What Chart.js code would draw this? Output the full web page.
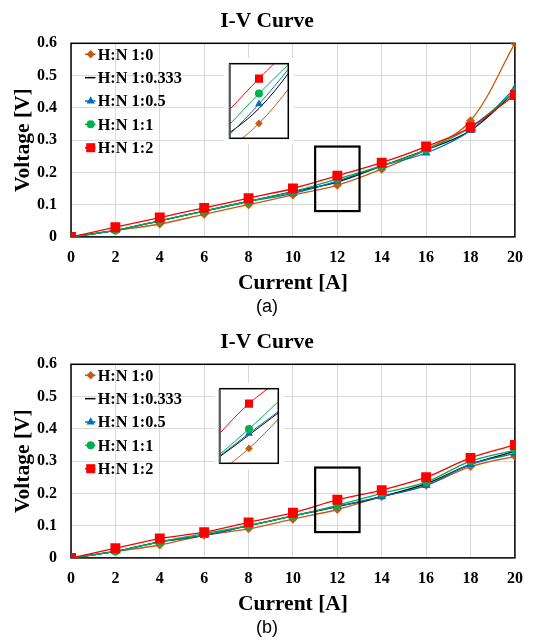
<!DOCTYPE html>
<html>
<head>
<meta charset="utf-8">
<script src="https://cdn.jsdelivr.net/npm/chart.js@4.4.1/dist/chart.umd.min.js"></script>
<style>
  body { margin: 0; background: #fff; }
  #page { position: relative; width: 534px; height: 641px; }
  .panel { position: absolute; left: 0; width: 534px; height: 320px; }
  .panel canvas { display: block; }
  .panel canvas.inset { position: absolute; background: #fff; }
</style>
</head>
<body>
<div id="page">
  <div class="panel" style="top:0">
    <canvas id="chartA" width="534" height="320"></canvas>
    <canvas class="inset" id="insetA" width="70" height="86" style="left:224px;top:58px"></canvas>
  </div>
  <div class="panel" style="top:321px">
    <canvas id="chartB" width="534" height="320"></canvas>
    <canvas class="inset" id="insetB" width="70" height="86" style="left:214px;top:62px"></canvas>
  </div>
</div>
<script>
var current = [0, 2, 4, 6, 8, 10, 12, 14, 16, 18, 20];
var xTicks = [0, 2, 4, 6, 8, 10, 12, 14, 16, 18, 20];
var yTicks = [0, 0.1, 0.2, 0.3, 0.4, 0.5, 0.6];
var seriesNames = ['H:N 1:0', 'H:N 1:0.333', 'H:N 1:0.5', 'H:N 1:1', 'H:N 1:2'];

// (a)
var hn0_a    = [0, 0.02, 0.04, 0.07, 0.10, 0.13, 0.16, 0.21, 0.27, 0.36, 0.60];
var hn0333_a = [0, 0.02, 0.05, 0.08, 0.11, 0.14, 0.17, 0.22, 0.27, 0.33, 0.45];
var hn05_a   = [0, 0.02, 0.05, 0.08, 0.11, 0.135, 0.173, 0.22, 0.26, 0.33, 0.46];
var hn1_a    = [0, 0.02, 0.05, 0.08, 0.11, 0.14, 0.18, 0.22, 0.27, 0.34, 0.45];
var hn2_a    = [0, 0.03, 0.06, 0.09, 0.12, 0.15, 0.19, 0.23, 0.28, 0.34, 0.44];

// (b)
var hn0_b    = [0, 0.02, 0.04, 0.07, 0.09, 0.12, 0.15, 0.19, 0.225, 0.283, 0.315];
var hn0333_b = [0, 0.02, 0.05, 0.07, 0.10, 0.13, 0.159, 0.19, 0.23, 0.29, 0.33];
var hn05_b   = [0, 0.02, 0.05, 0.07, 0.10, 0.13, 0.16, 0.19, 0.225, 0.29, 0.324];
var hn1_b    = [0, 0.02, 0.05, 0.075, 0.10, 0.13, 0.163, 0.20, 0.235, 0.30, 0.334];
var hn2_b    = [0, 0.03, 0.06, 0.08, 0.11, 0.14, 0.18, 0.21, 0.25, 0.31, 0.35];

// zoom window marked on the big plot, and the ranges shown in the insets
var zoomBoxX = [11, 13];
var zoomBoxY = [0.08, 0.28];
var insetX = [11, 13];
var insetY_a = [0.15, 0.20];
var insetY_b = [0.14, 0.19];

var colors = ['#C55A11', '#000000', '#0070C0', '#00B050', '#FF0000'];
var shapes = ['rectRot', 'circle', 'triangle', 'circle', 'rect'];
var radii = [4.5, 0, 5.2, 4, 7];
var insetRadii = [3.8, 0, 4.6, 4, 5.7];
var legendRadii = [4.2, 0, 4.8, 4, 6.4];

var serif = "'Liberation Serif', 'Times New Roman', serif";
Chart.defaults.font.family = serif;
Chart.defaults.color = '#000';

function makeDatasets(values, inset) {
    return values.map(function (vals, i) {
        var ds = {
            label: seriesNames[i],
            data: current.map(function (x, j) { return { x: x, y: vals[j] }; }),
            borderColor: colors[i],
            backgroundColor: colors[i],
            borderWidth: inset ? 1 : 1.3,
            pointStyle: shapes[i],
            pointRadius: inset ? insetRadii[i] : radii[i],
            pointBorderWidth: 0,
            tension: 0.35,
            order: 4 - i
        };
        if (inset) ds.clip = 0;
        return ds;
    });
}

var framePlugin = {
    id: 'frame',
    beforeDatasetsDraw: function (chart) {
        var a = chart.chartArea, ctx = chart.ctx;
        ctx.save();
        ctx.strokeStyle = '#000';
        ctx.lineWidth = 1.5;
        ctx.strokeRect(a.left, a.top, a.right - a.left, a.bottom - a.top);
        ctx.restore();
    }
};

var zoomBoxPlugin = {
    id: 'zoomBox',
    afterDatasetsDraw: function (chart) {
        var x = chart.scales.x, y = chart.scales.y, ctx = chart.ctx;
        var x0 = x.getPixelForValue(zoomBoxX[0]), x1 = x.getPixelForValue(zoomBoxX[1]);
        var y0 = y.getPixelForValue(zoomBoxY[1]), y1 = y.getPixelForValue(zoomBoxY[0]);
        ctx.save();
        ctx.strokeStyle = '#000';
        ctx.lineWidth = 2.2;
        ctx.strokeRect(x0, y0, x1 - x0, y1 - y0);
        ctx.restore();
    }
};

// legend sits inside the plot, top left
var innerLegend = {
    id: 'innerLegend',
    afterDraw: function (chart) {
        var a = chart.chartArea, ctx = chart.ctx;
        ctx.save();
        chart.data.datasets.forEach(function (ds, i) {
            var y = a.top + 11 + i * 23.35;
            var mx = a.left + 19.7;
            ctx.strokeStyle = colors[i];
            ctx.lineWidth = 1.5;
            ctx.beginPath();
            ctx.moveTo(a.left + 14, y);
            ctx.lineTo(a.left + 24.5, y);
            ctx.stroke();
            if (legendRadii[i] > 0) {
                ctx.fillStyle = colors[i];
                Chart.helpers.drawPoint(ctx, { pointStyle: shapes[i], radius: legendRadii[i], rotation: 0, borderWidth: 0 }, mx, y);
            }
            ctx.fillStyle = '#000';
            ctx.font = 'bold 16.3px ' + serif;
            ctx.textAlign = 'left';
            ctx.textBaseline = 'middle';
            ctx.fillText(ds.label, a.left + 26.7, y + 1);
        });
        ctx.restore();
    }
};

var insetFrame = {
    id: 'insetFrame',
    afterDraw: function (chart) {
        var a = chart.chartArea, ctx = chart.ctx;
        ctx.save();
        ctx.strokeStyle = '#000';
        ctx.lineWidth = 1.5;
        ctx.strokeRect(a.left, a.top, a.right - a.left, a.bottom - a.top);
        ctx.strokeStyle = '#595959';
        ctx.lineWidth = 2;
        ctx.beginPath();
        ctx.moveTo(a.left, a.top);
        ctx.lineTo(a.left, a.bottom);
        ctx.stroke();
        ctx.restore();
    }
};

function fixedTicks(list) {
    return function (scale) {
        scale.ticks = list.map(function (v) { return { value: v }; });
    };
}

function mainChart(id, values, tag) {
    return new Chart(document.getElementById(id), {
        type: 'line',
        data: { datasets: makeDatasets(values, false) },
        options: {
            responsive: false,
            animation: false,
            events: [],
            layout: { padding: { left: 16.3, right: 16.3, top: 0, bottom: 0 } },
            plugins: {
                legend: { display: false },
                tooltip: { enabled: false },
                title: {
                    display: true,
                    text: 'I-V Curve',
                    color: '#000',
                    font: { size: 21.5, weight: 'bold' },
                    padding: { top: 8.1, bottom: 9.4 }
                },
                subtitle: {
                    display: true,
                    position: 'bottom',
                    text: tag,
                    color: '#000',
                    font: { family: "'Liberation Sans', Arial, sans-serif", size: 18, weight: 'normal' },
                    padding: { top: 0, bottom: 2.5 }
                }
            },
            scales: {
                x: {
                    type: 'linear',
                    min: 0,
                    max: 20,
                    afterBuildTicks: fixedTicks(xTicks),
                    grid: { color: '#d9d9d9', lineWidth: 1, drawTicks: false },
                    border: { display: false },
                    ticks: {
                        padding: 11.1,
                        autoSkip: false,
                        maxRotation: 0,
                        font: { size: 16, weight: 'bold' },
                        callback: function (v) { return String(v); }
                    },
                    title: {
                        display: true,
                        text: 'Current [A]',
                        font: { size: 21.5, weight: 'bold' },
                        padding: { top: -7.8, bottom: -0.4 }
                    }
                },
                y: {
                    min: 0,
                    max: 0.6,
                    afterBuildTicks: fixedTicks(yTicks),
                    afterFit: function (scale) { scale.width = 54.7; },
                    grid: { color: '#d9d9d9', lineWidth: 1, drawTicks: false },
                    border: { display: false },
                    ticks: {
                        padding: 14,
                        font: { size: 16, weight: 'bold' },
                        callback: function (v) { return String(v); }
                    },
                    title: {
                        display: true,
                        text: 'Voltage [V]',
                        font: { size: 21.5, weight: 'bold' },
                        padding: { top: -6, bottom: 0 }
                    }
                }
            }
        },
        plugins: [framePlugin, zoomBoxPlugin, innerLegend]
    });
}

function insetChart(id, values, yRange) {
    return new Chart(document.getElementById(id), {
        type: 'line',
        data: { datasets: makeDatasets(values, true) },
        options: {
            responsive: false,
            animation: false,
            events: [],
            layout: { padding: 4 },
            plugins: { legend: { display: false }, tooltip: { enabled: false } },
            scales: {
                x: { type: 'linear', display: false, min: insetX[0], max: insetX[1] },
                y: { display: false, min: yRange[0], max: yRange[1] }
            }
        },
        plugins: [insetFrame]
    });
}

var seriesA = [hn0_a, hn0333_a, hn05_a, hn1_a, hn2_a];
var seriesB = [hn0_b, hn0333_b, hn05_b, hn1_b, hn2_b];

mainChart('chartA', seriesA, '(a)');
insetChart('insetA', seriesA, insetY_a);
mainChart('chartB', seriesB, '(b)');
insetChart('insetB', seriesB, insetY_b);
</script>
</body>
</html>
